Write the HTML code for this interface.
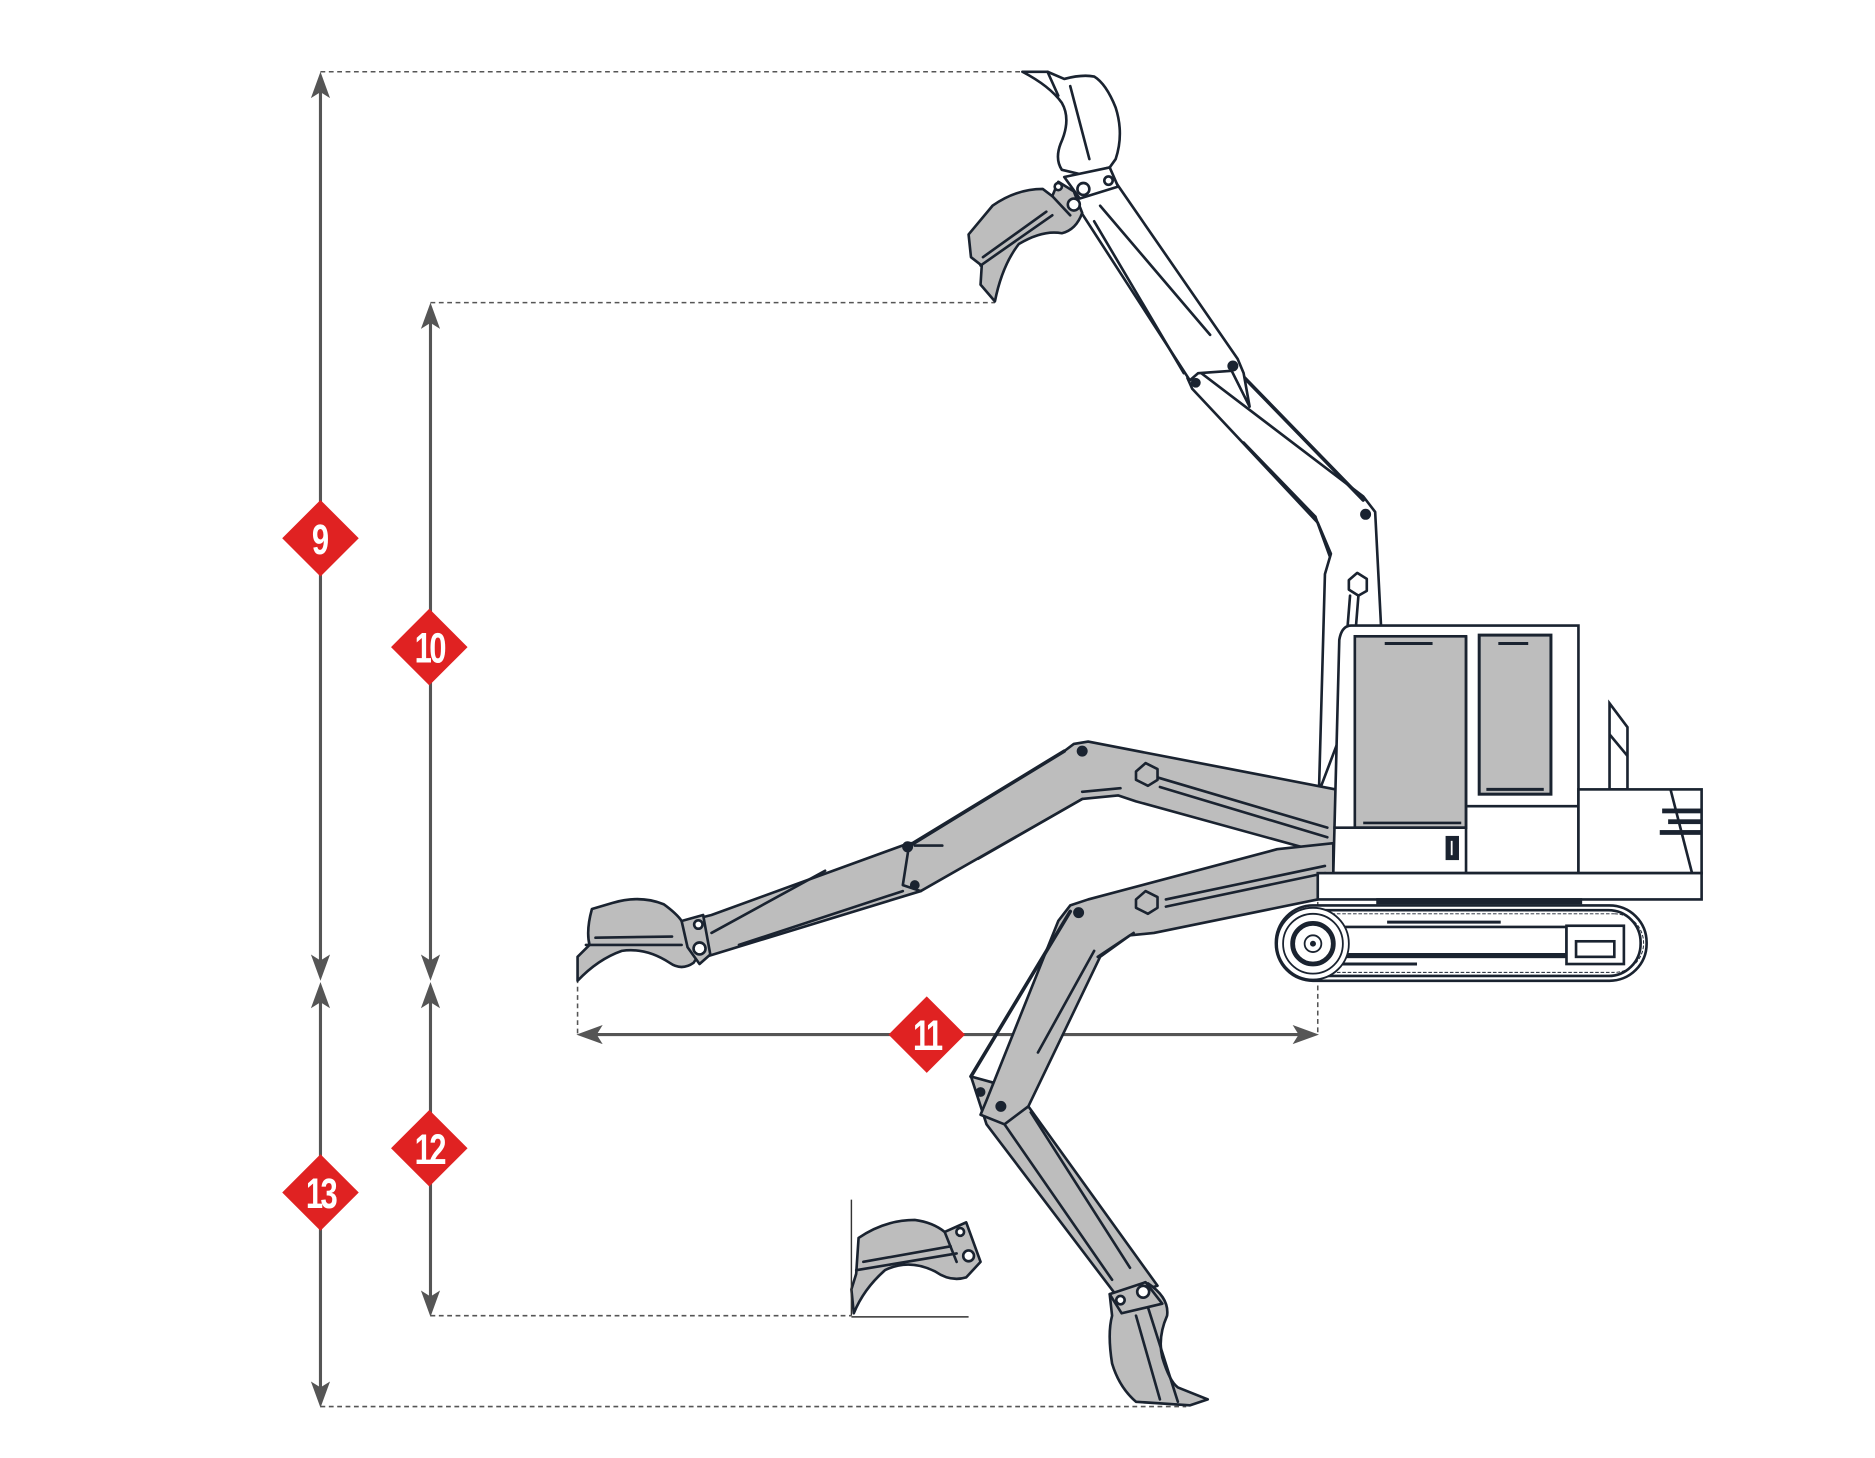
<!DOCTYPE html>
<html><head><meta charset="utf-8"><style>html,body{margin:0;padding:0;background:#fff}svg{display:block}</style></head><body>
<svg width="1875" height="1458" viewBox="0 0 1568 1219" preserveAspectRatio="none" xmlns="http://www.w3.org/2000/svg">
<defs>
<g id="au"><path d="M0,0 L-8,22 L0,17 L8,22 Z" fill="#555"/></g>
</defs>
<g stroke="#555" stroke-width="1.3" stroke-dasharray="4,3" fill="none">
<line x1="268" y1="60" x2="856" y2="60"/>
<line x1="360" y1="253" x2="832" y2="253"/>
<line x1="360" y1="1100" x2="712" y2="1100"/>
<line x1="268" y1="1176" x2="992" y2="1176"/>
<line x1="483" y1="818" x2="483" y2="865"/>
<line x1="1102" y1="740" x2="1102" y2="865"/>
</g>
<g stroke="#555" stroke-width="2.6" fill="none">
<line x1="268" y1="65" x2="268" y2="815"/>
<line x1="268" y1="826" x2="268" y2="1172"/>
<line x1="360" y1="258" x2="360" y2="815"/>
<line x1="360" y1="826" x2="360" y2="1096"/>
<line x1="488" y1="865" x2="1098" y2="865"/>
</g>
<use href="#au" transform="translate(268,60)"/>
<use href="#au" transform="translate(268,820) rotate(180)"/>
<use href="#au" transform="translate(268,821)"/>
<use href="#au" transform="translate(268,1177) rotate(180)"/>
<use href="#au" transform="translate(360,253)"/>
<use href="#au" transform="translate(360,820) rotate(180)"/>
<use href="#au" transform="translate(360,821)"/>
<use href="#au" transform="translate(360,1101) rotate(180)"/>
<use href="#au" transform="translate(482,865) rotate(-90)"/>
<use href="#au" transform="translate(1103,865) rotate(90)"/>

<g stroke="#1a2330" stroke-width="2.2" stroke-linejoin="round" stroke-linecap="round">
<!-- upper boom -->
<polygon fill="#fff" points="1103,662 1108,480 1113,463 1102,437 997,325 993,316 1002,310 1140,415 1150,428 1155,525"/>
<line x1="1035" y1="310" x2="1140" y2="418" stroke-width="3"/>
<line x1="1040" y1="370" x2="1100" y2="432"/>
<line x1="1100" y1="432" x2="1112" y2="465"/>
<polygon fill="#fff" points="898,168 930,148 1035,300 1040,312 1045,340 1030,310 1002,312 995,318"/>
<line x1="915" y1="185" x2="990" y2="312"/>
<line x1="920" y1="172" x2="1012" y2="280"/>
<circle cx="1000" cy="320" r="3" fill="#1a2330"/>
<circle cx="1031" cy="306" r="3.5" fill="#1a2330"/>
<circle cx="1142" cy="430" r="3.5" fill="#1a2330"/>
<polygon fill="#fff" points="1128,485 1135,479 1143,484 1143,494 1136,498 1128,493"/>
<line x1="1129" y1="498" x2="1127" y2="523"/><line x1="1136" y1="498" x2="1134" y2="523"/>
<!-- top bucket -->
<path fill="#fff" d="M855,60 L876,60 L890,66 Q905,62 915,64 Q925,70 933,90 Q940,112 933,133 L928,140 L905,146 L888,142 Q882,133 887,120 Q896,100 888,86 Q878,72 855,60 Z"/>
<line x1="876" y1="60" x2="885" y2="80"/>
<line x1="895" y1="72" x2="911" y2="133"/>
<polygon fill="#fff" points="890,148 928,140 935,156 903,166"/>
<circle cx="906" cy="158" r="5" fill="#fff"/><circle cx="927" cy="151" r="3.5" fill="#fff"/>
<!-- upper grey bucket -->
<path fill="#bdbdbd" d="M810,196 L830,172 Q850,158 872,158 L880,164 L885,152 L898,160 L905,178 Q900,192 888,195 Q872,192 852,204 Q838,222 832,252 L820,238 L821,222 L812,215 Z"/>
<line x1="822" y1="215" x2="875" y2="177"/>
<line x1="820" y1="222" x2="880" y2="180"/>
<line x1="880" y1="164" x2="895" y2="180"/>
<circle cx="885" cy="156" r="3" fill="#fff"/><circle cx="898" cy="171" r="5" fill="#fff"/>

<!-- lower-left boom -->
<polygon fill="#bdbdbd" points="575,770 595,765 760,705 798,705 770,745 590,800"/>
<polygon fill="#bdbdbd" points="1117,660 910,620 898,622 890,628 760,708 755,740 770,745 905,668 935,665 950,670 1117,716"/>
<line x1="762" y1="706" x2="890" y2="628" stroke-width="3"/>
<line x1="618" y1="790" x2="755" y2="745"/>
<line x1="595" y1="780" x2="690" y2="728"/>
<line x1="818" y1="718" x2="905" y2="668"/>
<line x1="905" y1="662" x2="937" y2="659"/>
<line x1="968" y1="650" x2="1110" y2="692"/>
<line x1="970" y1="658" x2="1110" y2="700"/>
<polygon fill="#bdbdbd" points="950,645 958,638 968,643 968,652 960,657 950,652"/>
<circle cx="905" cy="628" r="3.5" fill="#1a2330"/>
<circle cx="759" cy="708" r="3.5" fill="#1a2330"/>
<circle cx="765" cy="740" r="3" fill="#1a2330"/>
<line x1="765" y1="707" x2="788" y2="707"/>
<path fill="#bdbdbd" d="M495,760 L512,755 Q535,748 555,756 Q566,764 570,770 L590,790 L580,805 Q570,812 560,805 Q540,792 520,795 Q500,802 483,820 L483,800 L493,790 Q490,778 495,760 Z"/>
<line x1="498" y1="784" x2="562" y2="783"/>
<line x1="490" y1="790" x2="570" y2="790"/>
<polygon fill="#bdbdbd" points="570,770 588,765 594,798 585,806 575,792"/>
<circle cx="584" cy="773" r="3.5" fill="#fff"/><circle cx="585" cy="793" r="5" fill="#fff"/>

<!-- lower-down boom -->
<polygon fill="#bdbdbd" points="812,900 825,940 935,1085 968,1075 860,925 840,938 830,905"/>
<line x1="840" y1="940" x2="930" y2="1070"/>
<line x1="862" y1="930" x2="945" y2="1060"/>
<polygon fill="#bdbdbd" points="1115,705 1068,710 910,752 895,757 885,770 825,920 820,932 840,940 860,925 920,800 945,782 965,780 1102,752 1115,740"/>
<line x1="895" y1="762" x2="812" y2="900" stroke-width="3"/>
<line x1="868" y1="880" x2="915" y2="795"/>
<line x1="918" y1="800" x2="948" y2="780"/>
<line x1="975" y1="758" x2="1108" y2="730"/>
<line x1="975" y1="752" x2="1108" y2="724"/>
<polygon fill="#bdbdbd" points="950,752 958,745 968,750 968,759 960,764 950,759"/>
<circle cx="902" cy="763" r="3.5" fill="#1a2330"/>
<circle cx="820" cy="913" r="3" fill="#1a2330"/>
<circle cx="837" cy="925" r="3.5" fill="#1a2330"/>
<path fill="#bdbdbd" d="M928,1082 L960,1073 Q978,1085 976,1100 Q968,1118 972,1135 Q978,1155 985,1160 L1010,1170 L995,1175 L950,1172 Q936,1160 930,1140 Q926,1115 930,1100 Z"/>
<line x1="950" y1="1100" x2="970" y2="1170"/>
<line x1="960" y1="1093" x2="985" y2="1172"/>
<polygon fill="#bdbdbd" points="928,1082 958,1072 972,1090 938,1098"/>
<circle cx="937" cy="1087" r="3.5" fill="#fff"/><circle cx="956" cy="1080" r="5" fill="#fff"/>

<!-- small bucket -->
<path fill="#bdbdbd" d="M718,1035 Q740,1020 765,1020 Q780,1022 790,1030 L808,1022 L820,1055 L808,1068 Q795,1072 782,1063 Q760,1052 740,1062 Q722,1078 714,1098 L712,1078 L716,1065 Z"/>
<line x1="722" y1="1055" x2="795" y2="1042"/>
<line x1="716" y1="1062" x2="800" y2="1048"/>
<line x1="790" y1="1030" x2="800" y2="1055"/>
<circle cx="803" cy="1030" r="3.2" fill="#fff"/><circle cx="810" cy="1050" r="4.5" fill="#fff"/>
</g>
<g stroke="#333" stroke-width="1.2"><line x1="712" y1="1003" x2="712" y2="1100"/><line x1="712" y1="1101" x2="810" y2="1101"/></g>

<!-- cab and chassis -->
<g stroke="#1a2330" stroke-width="2.2" fill="#fff">
<path d="M1130,523 L1320,523 L1320,730 L1115,730 L1120,535 Q1122,523 1130,523 Z"/>
<rect x="1133" y="532" width="93" height="160" fill="#bdbdbd"/>
<rect x="1237" y="531" width="60" height="133" fill="#bdbdbd" stroke-width="2.5"/>
<line x1="1115" y1="692" x2="1226" y2="692"/>
<line x1="1226" y1="532" x2="1226" y2="730"/>
<line x1="1227" y1="674" x2="1320" y2="674"/>
<line x1="1158" y1="538" x2="1198" y2="538" stroke-width="2.5"/>
<line x1="1253" y1="538" x2="1278" y2="538" stroke-width="2.5"/>
<line x1="1140" y1="688" x2="1222" y2="688"/>
<line x1="1243" y1="660" x2="1291" y2="660" stroke-width="2.5"/>
<rect x="1210" y="700" width="9" height="18" fill="#1a2330"/>
<line x1="1214" y1="703" x2="1214" y2="715" stroke="#fff" stroke-width="1.5"/>
<polygon points="1346,588 1361,608 1361,660 1346,660"/>
<line x1="1346" y1="614" x2="1361" y2="632"/>
<rect x="1320" y="660" width="103" height="70"/>
<line x1="1397" y1="660" x2="1415" y2="730"/>
<rect x="1102" y="730" width="321" height="22"/>
<rect x="1152" y="752" width="170" height="3" fill="#1a2330"/>
<rect x="1067" y="757" width="310" height="63" rx="31"/>
<rect x="1072" y="761" width="300" height="55" rx="27"/>
<rect x="1120" y="775" width="190" height="25" fill="none"/>
<rect x="1310" y="774" width="48" height="32"/>
<rect x="1318" y="787" width="32" height="13"/>
<line x1="1160" y1="771" x2="1255" y2="771" stroke-width="2.5"/>
<line x1="1125" y1="798" x2="1310" y2="798" stroke-width="2.5"/>
<line x1="1120" y1="806" x2="1185" y2="806" stroke-width="2.5"/>
</g>
<g stroke="#1a2330" stroke-width="0.8" fill="none" stroke-dasharray="3,1.5">
<line x1="1100" y1="764" x2="1350" y2="764"/>
<line x1="1100" y1="813" x2="1350" y2="813"/>
<path d="M1350,764 A24,24 0 0 1 1350,813"/>
</g>
<g stroke="#1a2330" fill="#fff">
<circle cx="1098" cy="789" r="30" stroke-width="1.5"/>
<circle cx="1098" cy="789" r="25" stroke-width="1.5"/>
<circle cx="1098" cy="789" r="17" stroke-width="4"/>
<circle cx="1098" cy="789" r="7" stroke-width="1.5"/>
<circle cx="1098" cy="789" r="2" fill="#1a2330"/>
</g>
<rect x="1390" y="676" width="33" height="4" fill="#1a2330"/>
<rect x="1395" y="685" width="28" height="4" fill="#1a2330"/>
<rect x="1388" y="694" width="35" height="4" fill="#1a2330"/>

<!-- diamonds -->
<g fill="#e02222">
<polygon points="268,418 300,450 268,482 236,450"/>
<polygon points="268,965 300,997 268,1029 236,997"/>
<polygon points="359,509 391,541 359,573 327,541"/>
<polygon points="359,928 391,960 359,992 327,960"/>
<polygon points="775,833 807,865 775,897 743,865"/>
</g>
<g fill="#fff" font-family="'Liberation Sans',sans-serif" font-weight="bold" font-size="36" text-anchor="middle">
<text transform="translate(268,463) scale(0.72,1)">9</text>
<text transform="translate(268,1010) scale(0.72,1)" letter-spacing="-3">13</text>
<text transform="translate(359,554) scale(0.72,1)" letter-spacing="-3">10</text>
<text transform="translate(359,973) scale(0.72,1)" letter-spacing="-3">12</text>
<text transform="translate(775,878) scale(0.72,1)" letter-spacing="-3">11</text>
</g>
</svg>
</body></html>
